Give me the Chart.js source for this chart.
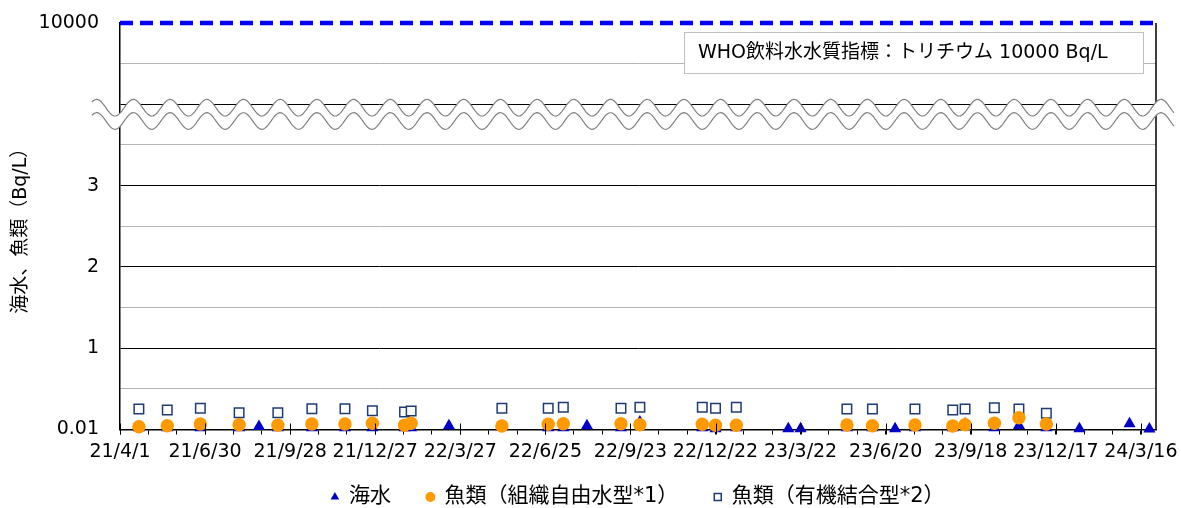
<!DOCTYPE html>
<html>
<head>
<meta charset="utf-8">
<script src="https://cdn.jsdelivr.net/npm/chart.js@4.4.1/dist/chart.umd.min.js"></script>
<style>
  html, body { margin: 0; padding: 0; background: #fff; }
  #wrap { width: 1181px; height: 508px; }
</style>
</head>
<body>
<div id="wrap"><canvas id="chart"></canvas></div>
<script>
// ---- データ ----
const FONT = "'DejaVu Sans', 'Noto Sans CJK JP', sans-serif";
const axisStart = '2021-04-01';
const axisEnd = '2024-04-01';
const xTickLabels = ['21/4/1', '21/6/30', '21/9/28', '21/12/27', '22/3/27', '22/6/25', '22/9/23',
  '22/12/22', '23/3/22', '23/6/20', '23/9/18', '23/12/17', '24/3/16'];
const yTickValues = [0, 0.5, 1, 1.5, 2, 2.5, 3, 3.5, 4, 4.5, 5];
const yTickLabels = ['0.01', '', '1', '', '2', '', '3', '', '', '', '10000'];
const breakValue = 4;        // 波線で省略する位置
const whoLimit = 10000;      // WHO飲料水水質指標 (Bq/L)
const whoLimitAxisPos = 5;   // 省略軸上での10000の位置

// 海水
const seaDates = ['2021-04-21', '2021-05-21', '2021-06-25', '2021-08-05', '2021-08-26', '2021-09-15',
  '2021-10-21', '2021-11-25', '2021-12-24', '2022-01-27', '2022-02-03', '2022-03-15', '2022-05-10',
  '2022-06-28', '2022-07-14', '2022-08-08', '2022-09-13', '2022-10-03', '2022-12-08', '2022-12-22',
  '2023-01-13', '2023-03-09', '2023-03-22', '2023-05-10', '2023-06-06', '2023-06-30', '2023-07-21',
  '2023-08-30', '2023-09-12', '2023-10-13', '2023-11-08', '2023-12-07', '2024-01-11', '2024-03-04',
  '2024-03-25'];
const seaValues = [0.02, 0.02, 0.02, 0.02, 0.037, 0.02,
  0.02, 0.02, 0.02, 0.02, 0.02, 0.045, 0.03,
  0.02, 0.02, 0.045, 0.02, 0.092, 0.02, 0.01,
  0.02, 0.01, 0.008, 0.02, 0.02, 0.01, 0.02,
  0.02, 0.068, 0.02, 0.05, 0.02, 0.01, 0.07,
  0.005];

// 魚類
const fishDates = ['2021-04-21', '2021-05-21', '2021-06-25', '2021-08-05', '2021-09-15', '2021-10-21',
  '2021-11-25', '2021-12-24', '2022-01-27', '2022-02-03', '2022-05-10', '2022-06-28', '2022-07-14',
  '2022-09-13', '2022-10-03', '2022-12-08', '2022-12-22', '2023-01-13', '2023-05-10', '2023-06-06',
  '2023-07-21', '2023-08-30', '2023-09-12', '2023-10-13', '2023-11-08', '2023-12-07'];
const fishFreeWater = [0.034, 0.047, 0.068, 0.059, 0.052, 0.068,
  0.068, 0.076, 0.052, 0.076, 0.043, 0.064, 0.071,
  0.071, 0.059, 0.064, 0.052, 0.052, 0.055, 0.047,
  0.055, 0.043, 0.059, 0.076, 0.145, 0.068];
const fishOrganic = [0.252, 0.24, 0.26, 0.206, 0.206, 0.256,
  0.256, 0.231, 0.215, 0.227, 0.26, 0.26, 0.273,
  0.26, 0.273, 0.273, 0.26, 0.273, 0.252, 0.252,
  0.252, 0.24, 0.252, 0.268, 0.252, 0.199];

// ---- 日付 → 軸上の日数 ----
const BASE = Date.UTC(2021, 3, 1);
function dayOf(iso) {
  const [y, m, d] = iso.split('-').map(Number);
  return (Date.UTC(y, m - 1, d) - BASE) / 864e5;
}
function dayOfShort(s) {
  const [y, m, d] = s.split('/').map(Number);
  return (Date.UTC(2000 + y, m - 1, d) - BASE) / 864e5;
}
const axisPos = v => (v >= whoLimit ? whoLimitAxisPos : v);
const toPoints = (dates, vals) => dates.map((d, i) => ({ x: dayOf(d), y: axisPos(vals[i]) }));

const majorDays = xTickLabels.map(dayOfShort);
const xTicks = [];
majorDays.forEach((d, i) => {
  xTicks.push({ value: d, label: xTickLabels[i] });
  if (i < majorDays.length - 1) {
    const step = (majorDays[i + 1] - d) / 3;
    xTicks.push({ value: d + step, label: '' }, { value: d + 2 * step, label: '' });
  }
});

// ---- 装飾（右枠・目盛り・注記・波線） ----
const decorPlugin = {
  id: 'decor',
  afterDraw(chart) {
    const { ctx, chartArea: a, scales: { x, y } } = chart;
    ctx.save();
    // 右枠
    ctx.strokeStyle = '#000';
    ctx.lineWidth = 1.5;
    ctx.beginPath();
    ctx.moveTo(a.right, a.top);
    ctx.lineTo(a.right, a.bottom);
    ctx.stroke();
    // 主目盛り（軸の上側）
    ctx.lineWidth = 1;
    majorDays.forEach(d => {
      const px = Math.round(x.getPixelForValue(d)) + 0.5;
      ctx.beginPath();
      ctx.moveTo(px, a.bottom - 6);
      ctx.lineTo(px, a.bottom + 5);
      ctx.stroke();
    });
    // 注記
    const bx = a.right - 472, by = a.top + 9, bw = 459, bh = 41;
    ctx.fillStyle = '#fff';
    ctx.fillRect(bx, by, bw, bh);
    ctx.strokeStyle = '#BFBFBF';
    ctx.strokeRect(bx + 0.5, by + 0.5, bw, bh);
    ctx.fillStyle = '#000';
    ctx.font = '19px ' + FONT;
    ctx.textBaseline = 'middle';
    ctx.textAlign = 'left';
    ctx.fillText('WHO飲料水水質指標：トリチウム ' + whoLimit + ' Bq/L', bx + 14, by + bh / 2 + 1);
    // 波線（軸の省略）
    const y0 = y.getPixelForValue(breakValue);
    const c1 = y0 + 3.4, c2 = y0 + 16.7, amp = 8.3, per = 36.7;
    const x0 = a.left - 28, x1 = a.right + 18, ph = a.left - 23.3;
    const wave = (c, xx) => c - amp * Math.cos(2 * Math.PI * (xx - ph) / per);
    ctx.beginPath();
    for (let xx = x0; xx <= x1; xx += 1) ctx.lineTo(xx, wave(c1, xx));
    for (let xx = x1; xx >= x0; xx -= 1) ctx.lineTo(xx, wave(c2, xx));
    ctx.closePath();
    ctx.fillStyle = '#fff';
    ctx.fill();
    ctx.strokeStyle = '#808080';
    ctx.lineWidth = 1.2;
    [c1, c2].forEach(c => {
      ctx.beginPath();
      for (let xx = x0; xx <= x1; xx += 1) ctx.lineTo(xx, wave(c, xx));
      ctx.stroke();
    });
    ctx.restore();
  }
};

new Chart(document.getElementById('chart'), {
  type: 'scatter',
  data: {
    datasets: [
      { label: '海水', data: toPoints(seaDates, seaValues), pointStyle: 'triangle', pointRadius: 7,
        backgroundColor: '#0000C8', borderColor: '#0000C8', borderWidth: 0, clip: false, order: 3 },
      { label: '魚類（組織自由水型*1）', data: toPoints(fishDates, fishFreeWater), pointStyle: 'circle', pointRadius: 6.7,
        backgroundColor: '#FF9900', borderColor: '#FF9900', borderWidth: 0, clip: false, order: 1 },
      { label: '魚類（有機結合型*2）', data: toPoints(fishDates, fishOrganic), pointStyle: 'rect', pointRadius: 6.7,
        backgroundColor: '#fff', borderColor: '#1F3B73', borderWidth: 1.5, clip: false, order: 2 },
      { label: 'WHO', data: [{ x: dayOf(axisStart), y: axisPos(whoLimit) }, { x: dayOf(axisEnd), y: axisPos(whoLimit) }],
        showLine: true, borderColor: '#0000FF', borderWidth: 4.5, borderDash: [13, 7], pointRadius: 0,
        clip: false, order: 0 }
    ]
  },
  options: {
    responsive: true, maintainAspectRatio: false, animation: false,
    layout: { padding: { left: 36, right: 25, top: 23, bottom: 0 } },
    plugins: {
      tooltip: { enabled: false },
      legend: {
        position: 'bottom', fullSize: false, maxHeight: 57.5,
        labels: {
          usePointStyle: true, boxWidth: 7, boxHeight: 7, padding: 36, color: '#000',
          font: { family: FONT, size: 21 },
          filter: item => item.datasetIndex < 3,
          sort: (a, b) => a.datasetIndex - b.datasetIndex
        }
      }
    },
    scales: {
      x: {
        type: 'linear', min: dayOf(axisStart), max: dayOf(axisEnd),
        afterBuildTicks: s => { s.ticks = xTicks.map(t => ({ value: t.value })); },
        afterFit: s => { s.height = 21; },
        ticks: {
          autoSkip: false, maxRotation: 0, mirror: true, padding: -34, color: '#000',
          font: { family: FONT, size: 19 },
          callback: (v, i) => xTicks[i] ? xTicks[i].label : ''
        },
        grid: { drawOnChartArea: false, drawTicks: true, tickLength: 5, color: '#000' },
        border: { color: '#000', width: 1.5 }
      },
      y: {
        min: yTickValues[0], max: yTickValues[yTickValues.length - 1],
        afterBuildTicks: s => { s.ticks = yTickValues.map(v => ({ value: v })); },
        afterFit: s => { s.width = 84; },
        ticks: {
          padding: 0, color: '#000', font: { family: FONT, size: 19 },
          callback: v => yTickLabels[yTickValues.indexOf(v)]
        },
        grid: {
          drawTicks: true, tickLength: 21, tickColor: 'rgba(0,0,0,0)',
          color: c => c.tick.value === whoLimitAxisPos ? 'rgba(0,0,0,0)'
            : (Number.isInteger(c.tick.value) ? '#000' : '#B4B4B4')
        },
        border: { color: '#000', width: 1.5 },
        title: {
          display: true, text: '海水、魚類（Bq/L）', color: '#000',
          font: { family: FONT, size: 19 }, padding: { top: -26.7, bottom: 0 }
        }
      }
    }
  },
  plugins: [decorPlugin]
});
</script>
</body>
</html>
